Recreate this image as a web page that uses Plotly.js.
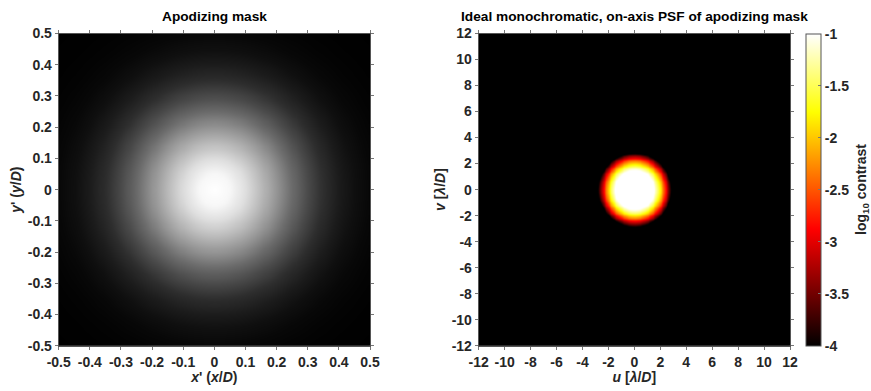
<!DOCTYPE html>
<html>
<head>
<meta charset="utf-8">
<script src="https://cdn.plot.ly/plotly-3.0.1.min.js"></script>
<style>html,body{margin:0;padding:0;background:#fff;}#chart{width:871px;height:391px;}</style>
</head>
<body>
<div id="chart"></div>
<script>
// Radial profile of the apodizing mask (transmission)
var maskRadius  = [0, 0.05, 0.10, 0.15, 0.20, 0.25, 0.30, 0.35, 0.40, 0.45, 0.50, 0.55, 0.60, 0.65, 0.71];
var maskProfile = [1.00, 0.97, 0.87, 0.73, 0.58, 0.42, 0.29, 0.18, 0.11, 0.06, 0.03, 0.015, 0.007, 0.003, 0.001];
// Radial profile of the PSF (log10 contrast)
var psfRadius  = [0, 0.25, 0.5, 0.75, 1.0, 1.25, 1.5, 1.75, 2.0, 2.25, 2.5, 2.75, 3.0, 4.0, 6.0, 17.0];
var psfProfile = [0, -0.02, -0.1, -0.24, -0.42, -0.66, -0.98, -1.38, -1.88, -2.45, -3.1, -3.8, -4.6, -8, -12, -12];
// Axis tick labels
var maskTicks = [-0.5, -0.4, -0.3, -0.2, -0.1, 0, 0.1, 0.2, 0.3, 0.4, 0.5];
var psfTicks = [-12, -10, -8, -6, -4, -2, 0, 2, 4, 6, 8, 10, 12];
var cbTicks = [-4, -3.5, -3, -2.5, -2, -1.5, -1];

function lookup(rs, vs, r) {
  if (r <= rs[0]) return vs[0];
  for (var i = 1; i < rs.length; i++) {
    if (r <= rs[i]) {
      var t = (r - rs[i-1]) / (rs[i] - rs[i-1]);
      return vs[i-1] + t * (vs[i] - vs[i-1]);
    }
  }
  return vs[vs.length - 1];
}
function grid(lo, hi, n) { var a = []; for (var i = 0; i < n; i++) a.push(lo + (hi - lo) * i / (n - 1)); return a; }

var mx = grid(-0.5, 0.5, 101);
var mz = mx.map(function (y) { return mx.map(function (x) { return lookup(maskRadius, maskProfile, Math.sqrt(x*x + y*y)); }); });
var px = grid(-12, 12, 121);
var pz = px.map(function (y) { return px.map(function (x) { return lookup(psfRadius, psfProfile, Math.sqrt(x*x + y*y)); }); });

var FAM = 'Liberation Sans, Arial, sans-serif';
var tickFont = {family: FAM, size: 14, color: '#262626', weight: 'bold'};
var lblFont = {family: FAM, size: 14, color: '#262626', weight: 'bold'};
var titleFont = {family: FAM, size: 13.7, color: '#000', weight: 'bold'};

function ax(domain, ticks, range, title, anchor) {
  return {
    domain: domain, range: range, tickvals: ticks, ticktext: ticks.map(String),
    ticks: 'outside', ticklen: 3, tickcolor: '#777', mirror: 'ticks', showline: true,
    linecolor: '#555', linewidth: 1, showgrid: false, zeroline: false,
    tickfont: tickFont, anchor: anchor,
    title: {text: title, font: lblFont, standoff: 2}
  };
}

var data = [
  {type: 'heatmap', x: mx, y: mx, z: mz, xaxis: 'x', yaxis: 'y', zmin: 0, zmax: 1,
   colorscale: [[0, 'rgb(0,0,0)'], [1, 'rgb(255,255,255)']], showscale: false, zsmooth: 'best', hoverinfo: 'skip'},
  {type: 'heatmap', x: px, y: px, z: pz, xaxis: 'x2', yaxis: 'y2', zmin: -4, zmax: -1,
   colorscale: [[0, 'rgb(0,0,0)'], [0.375, 'rgb(255,0,0)'], [0.75, 'rgb(255,255,0)'], [1, 'rgb(255,255,255)']],
   zsmooth: 'best', hoverinfo: 'skip',
   colorbar: {x: 805.7/871, xanchor: 'left', thickness: 15, xpad: 0, ypad: 0,
     len: 312.2/391, lenmode: 'fraction', y: 45.3/391, yanchor: 'bottom',
     outlinewidth: 1, outlinecolor: '#555', tickvals: cbTicks, ticktext: cbTicks.map(String),
     ticks: 'inside', ticklen: 3, tickcolor: '#777', tickfont: tickFont}}
];

var layout = {
  width: 871, height: 391, margin: {l: 0, r: 0, t: 0, b: 0},
  paper_bgcolor: '#fff', plot_bgcolor: '#000', showlegend: false,
  xaxis: ax([58.7/871, 370/871], maskTicks, [-0.5, 0.5], "<i>x</i>' (<i>x</i>/<i>D</i>)", 'y'),
  yaxis: ax([45.3/391, 357.5/391], maskTicks, [-0.5, 0.5], "<i>y</i>' (<i>y</i>/<i>D</i>)", 'x'),
  xaxis2: ax([478.7/871, 790/871], psfTicks, [-12, 12], "<i>u</i> [<i>λ</i>/<i>D</i>]", 'y2'),
  yaxis2: ax([45.3/391, 357.5/391], psfTicks, [-12, 12], "<i>v</i> [<i>λ</i>/<i>D</i>]", 'x2'),
  annotations: [
    {text: 'Apodizing mask', x: 214/871, y: 1 - 17/391, xref: 'paper', yref: 'paper', xanchor: 'center', yanchor: 'middle', showarrow: false,
     font: titleFont},
    {text: 'Ideal monochromatic, on-axis PSF of apodizing mask', x: 634.5/871, y: 1 - 17/391, xref: 'paper', yref: 'paper', xanchor: 'center', yanchor: 'middle', showarrow: false,
     font: titleFont},
    {text: 'log<sub>10</sub> contrast', x: 862/871, y: 1 - 190/391, xref: 'paper', yref: 'paper', xanchor: 'center', yanchor: 'middle', textangle: -90, showarrow: false,
     font: lblFont}
  ]
};

Plotly.newPlot('chart', data, layout, {staticPlot: true, displayModeBar: false});
</script>
</body>
</html>
